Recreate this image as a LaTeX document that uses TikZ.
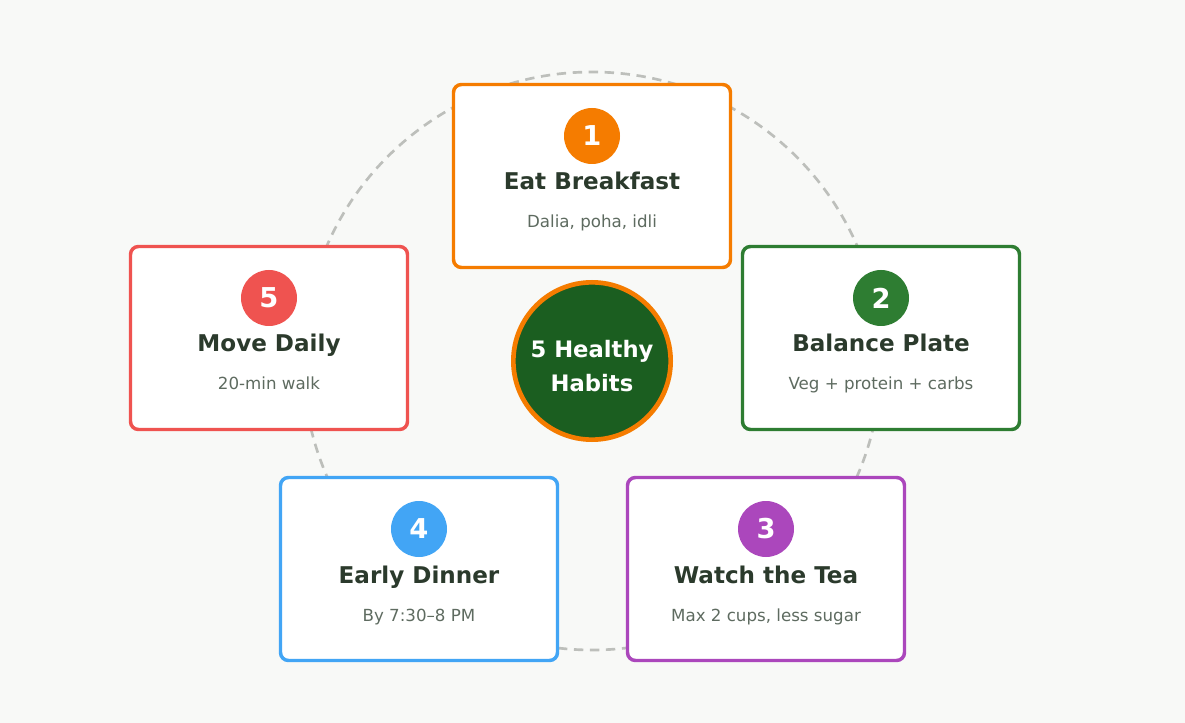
\documentclass[tikz,border=0pt]{standalone}
\usepackage{fontspec}
\setmainfont{DejaVu Sans}
\definecolor{bgcol}{HTML}{F8F9F7}
\definecolor{ringcol}{HTML}{BDBFBB}
\definecolor{titlecol}{HTML}{2B3A2C}
\definecolor{subcol}{HTML}{5E6B60}
\definecolor{hubcol}{HTML}{1B5E20}
\definecolor{cOne}{HTML}{F57C00}
\definecolor{cTwo}{HTML}{2E7D32}
\definecolor{cThree}{HTML}{AB47BC}
\definecolor{cFour}{HTML}{42A5F5}
\definecolor{cFive}{HTML}{EF5350}
\tikzset{every picture/.style={line width=0.75pt}}
\tikzset{
  card/.style={draw=#1, line width=2.6pt, fill=white, rounded corners=6pt, minimum width=207.75pt, minimum height=137.25pt},
  badge/.style={circle, fill=#1, minimum size=42pt, inner sep=0pt, text=white, font=\bfseries\fontsize{20.5}{22}\selectfont},
  habit/.style={anchor=base, text=titlecol, font=\bfseries\fontsize{17.3}{20}\selectfont},
  hint/.style={anchor=base, text=subcol, font=\fontsize{12.5}{14}\selectfont}
}

\begin{document}
\begin{tikzpicture}[x=0.75pt,y=0.75pt,yscale=-1,xscale=1]
%background
\fill[bgcol] (0,0) rectangle (1185,723);
\useasboundingbox (0,0) rectangle (1185,723);
%dashed ring
\node (ring) [circle, draw=ringcol, dashed, dash pattern=on 7pt off 5pt, line width=2pt, minimum size=433.5pt] at (592,361) {};

%cards
\foreach \id/\cx/\cy/\col/\num/\ttl/\sub in {
  one/592/176/cOne/1/Eat Breakfast/{Dalia, poha, idli},
  two/881/338/cTwo/2/Balance Plate/{Veg + protein + carbs},
  three/766/569/cThree/3/Watch the Tea/{Max 2 cups, less sugar},
  four/419/569/cFour/4/Early Dinner/{By 7:30–8 PM},
  five/269/338/cFive/5/Move Daily/{20-min walk}}
{
  \node (card\id) [card=\col] at (\cx,\cy) {};
  \node (badge\id) [badge=\col] at (\cx,\cy-40) {\num};
  \node (title\id) [habit] at (\cx,\cy+14) {\ttl};
  \node (sub\id) [hint] at (\cx,\cy+52) {\sub};
}

%hub
\node (hub) [circle, fill=hubcol, draw=cOne, line width=3.5pt, minimum size=118pt, align=center, text=white, font=\bfseries\fontsize{17}{26}\selectfont] at (592,361) {};
\node (hubtext) [align=center, text=white, font=\bfseries\fontsize{17}{26}\selectfont] at (592,366) {5 Healthy\\Habits};

\end{tikzpicture}
\end{document}
